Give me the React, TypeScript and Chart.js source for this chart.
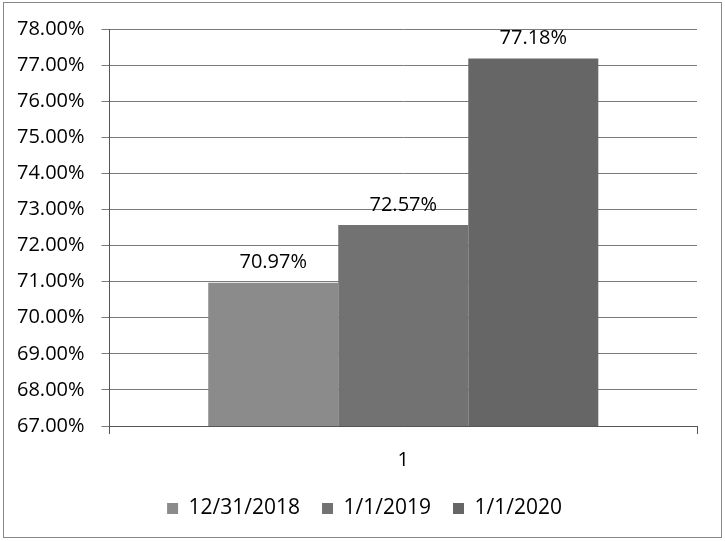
import React, { useEffect, useRef } from "react";
import { Chart, registerables } from "chart.js";

Chart.register(...registerables);

const categories = ["1"];
const seriesNames = ["12/31/2018", "1/1/2019", "1/1/2020"];
const seriesValues = [[70.97], [72.57], [77.18]];
const seriesColors = ["#8b8b8b", "#727272", "#666666"];
const yMin = 67;
const yMax = 78;
const yStep = 1;

const FONT = "'Open Sans', sans-serif";

const valueLabels = {
  id: "valueLabels",
  afterLayout(chart: any) {
    if (chart.legend) {
      chart.legend.left += 16;
      chart.legend.right += 16;
    }
  },
  afterDatasetsDraw(chart: any) {
    const ctx = chart.ctx;
    ctx.save();
    ctx.font = `20px ${FONT}`;
    ctx.fillStyle = "#000";
    ctx.textAlign = "center";
    ctx.textBaseline = "middle";
    chart.data.datasets.forEach((ds: any, i: number) => {
      const meta = chart.getDatasetMeta(i);
      meta.data.forEach((bar: any, j: number) => {
        const v = ds.data[j];
        ctx.fillText(v.toFixed(2) + "%", bar.x, bar.y - 20);
      });
    });
    ctx.restore();
  },
};

export default function App() {
  const ref = useRef<HTMLCanvasElement>(null);
  useEffect(() => {
    const chart = new Chart(ref.current!, {
      type: "bar",
      data: {
        labels: categories,
        datasets: seriesNames.map((name, i) => ({
          label: name,
          data: seriesValues[i],
          backgroundColor: seriesColors[i],
          borderWidth: 0,
          barPercentage: 1,
          categoryPercentage: 0.664,
        })),
      },
      options: {
        animation: false,
        responsive: false,
        maintainAspectRatio: false,
        layout: { padding: { left: 0, right: 28, top: 28, bottom: 12 } },
        plugins: {
          tooltip: { enabled: false },
          legend: {
            position: "bottom",
            labels: {
              font: { family: FONT, size: 21 },
              color: "#000",
              boxWidth: 11,
              boxHeight: 11,
              padding: 22,
            },
          },
        },
        scales: {
          x: {
            offset: true,
            grid: {
              offset: true,
              drawOnChartArea: false,
              drawTicks: true,
              tickLength: 8,
              color: "#555",
            },
            border: { display: true, color: "#555", width: 1 },
            ticks: {
              font: { family: FONT, size: 20 },
              color: "#000",
              padding: 14,
            },
            afterFit: (scale: any) => {
              scale.height -= 10;
            },
          },
          y: {
            min: yMin,
            max: yMax,
            grid: { color: "#7a7a7a", tickLength: 8, drawTicks: true },
            border: { display: true, color: "#555", width: 1 },
            ticks: {
              stepSize: yStep,
              font: { family: FONT, size: 20 },
              color: "#000",
              padding: 17,
              callback: (v: any) => Number(v).toFixed(2) + "%",
            },
          },
        },
      },
      plugins: [valueLabels],
    });
    return () => chart.destroy();
  }, []);
  return (
    <div style={{ position: "fixed", left: 0, top: 0, width: 725, height: 541, background: "#fff" }}>
      <canvas ref={ref} width={725} height={541} style={{ position: "absolute", left: 0, top: 0 }} />
      <div
        style={{
          position: "absolute",
          left: 3,
          top: 2,
          width: 717,
          height: 534,
          border: "1px solid #888",
          pointerEvents: "none",
        }}
      />
    </div>
  );
}
